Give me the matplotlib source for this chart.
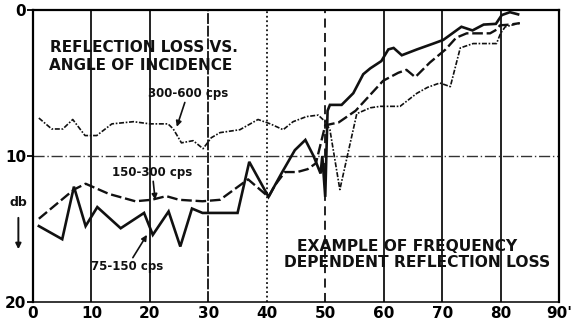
import matplotlib.pyplot as plt

# Reflection loss (db) against angle of incidence (degrees), three frequency bands
angle_75 = [1, 5, 7, 9, 11, 15, 19, 20.5, 23.2, 25.2, 27.2, 29, 35, 37, 40.3, 42.5, 44.8,
            46.6, 48, 49.2, 49.5, 50, 50.4, 50.8, 52.8, 54.8, 56.5, 57.7, 59.6, 60.8, 61.7,
            63.1, 65.7, 68.5, 70.2, 73.3, 75.2, 77.1, 79.2, 80.2, 81.6, 83]
loss_75 = [14.8, 15.7, 12.1, 14.8, 13.5, 14.95, 13.9, 15.4, 13.8, 16.2, 13.6, 13.9, 13.9, 10.4,
           12.8, 11.2, 9.6, 8.9, 10.0, 11.2, 10.0, 12.8, 6.9, 6.5, 6.5, 5.7, 4.4, 4.0, 3.5, 2.7,
           2.6, 3.1, 2.7, 2.3, 2.05, 1.15, 1.4, 1.0, 0.95, 0.35, 0.15, 0.3]

angle_150 = [1, 7, 9, 13, 17.5, 20.3, 22.8, 25, 29, 32, 36.8, 40.3, 41.4, 43.1, 45.2, 47, 48.4,
             50, 52.3, 55.2, 59.9, 62.5, 63.9, 65.4, 67.9, 70.6, 72.4, 74.2, 78.2, 79.3, 79.9,
             81.6, 83.3]
loss_150 = [14.3, 12.3, 11.9, 12.6, 13.1, 13.0, 12.75, 13.0, 13.1, 13.0, 11.6, 12.8, 12.0, 11.1,
            11.1, 10.9, 10.5, 7.9, 7.7, 6.9, 4.85, 4.3, 4.1, 4.6, 3.6, 2.7, 1.9, 1.6, 1.6, 1.35,
            1.05, 1.0, 0.9]

angle_300 = [1, 3.2, 5.1, 6.8, 8.9, 10.9, 13.5, 17.2, 20, 23.1, 24, 25.4, 27.4, 29.1, 30.5, 32,
             35.4, 38.5, 40.6, 42.8, 44.5, 46.8, 48.8, 50, 50.8, 52.5, 55.4, 57.7, 59.4, 62.8,
             65.7, 67.5, 69.6, 71.4, 73.1, 75.3, 79.3, 80, 80.8, 83.3]
loss_300 = [7.4, 8.15, 8.15, 7.5, 8.6, 8.6, 7.8, 7.65, 7.8, 7.8, 8.15, 9.1, 8.95, 9.5, 8.75, 8.4,
            8.2, 7.5, 7.8, 8.2, 7.65, 7.3, 7.2, 7.65, 8.2, 12.3, 7.1, 6.7, 6.6, 6.6, 5.7, 5.3,
            5.0, 5.25, 2.6, 2.3, 2.3, 1.6, 1.15, 0.9]

x_ticks = [0, 10, 20, 30, 40, 50, 60, 70, 80, 90]
x_tick_labels = ['0', '10', '20', '30', '40', '50', '60', '70', '80', "90'"]
y_ticks = [0, 10, 20]

ink = '#111111'
fig = plt.figure(figsize=(5.74, 3.21), dpi=100)
ax = fig.add_axes([0.0575, 0.0592, 0.9164, 0.9097])

# vertical rulings, drawn with the uneven strokes of the old plate
grid_styles = ['-', '-', (0, (6, 1)), (0, (1, 1.5)), (0, (5, 3)), '-', '-', '-']
for x, ls in zip(x_ticks[1:-1], grid_styles):
    ax.axvline(x, color=ink, lw=1.3, ls=ls, zorder=1)
ax.axhline(10, color='#333333', lw=1.0, ls=(0, (8, 2, 1, 2)), zorder=1)

ax.plot(angle_75, loss_75, color=ink, lw=1.9, solid_joinstyle='miter', zorder=3)
ax.plot(angle_150, loss_150, color=ink, lw=1.7, ls=(0, (4.5, 1.6)), zorder=3)
ax.plot(angle_300, loss_300, color=ink, lw=1.2, ls=(0, (3, 1, 1, 1)), zorder=3)

ax.set_xlim(0, 90)
ax.set_ylim(20, 0)
ax.set_xticks(x_ticks)
ax.set_xticklabels(x_tick_labels)
ax.set_yticks(y_ticks)
ax.tick_params(axis='x', length=0, pad=3, labelsize=11)
ax.tick_params(axis='y', length=4, width=1.3, pad=1, labelsize=11)
for lab in ax.get_xticklabels() + ax.get_yticklabels():
    lab.set_fontweight('bold')
for side in ['left', 'top', 'right']:
    ax.spines[side].set_linewidth(1.6)
ax.spines['bottom'].set_linewidth(1.1)

bold = dict(fontweight='bold', color=ink)
ax.text(2.9, 2.6, 'REFLECTION LOSS VS.', fontsize=11, va='center', ha='left', **bold)
ax.text(2.7, 3.77, 'ANGLE OF INCIDENCE', fontsize=11, va='center', ha='left', **bold)
ax.text(64, 16.2, 'EXAMPLE OF FREQUENCY', fontsize=11.2, va='center', ha='center', **bold)
ax.text(65.7, 17.3, 'DEPENDENT REFLECTION LOSS', fontsize=11.2, va='center', ha='center', **bold)

arrow = dict(arrowstyle='-|>', color=ink, lw=1.2, mutation_scale=8, shrinkA=0, shrinkB=0)
ax.annotate('300-600 cps', xy=(24.6, 8.0), xytext=(26.5, 5.7), fontsize=8.5, ha='center',
            va='center', arrowprops=arrow, **bold)
ax.annotate('150-300 cps', xy=(20.9, 13.0), xytext=(20.4, 11.1), fontsize=8.5, ha='center',
            va='center', arrowprops=arrow, **bold)
ax.annotate('75-150 cps', xy=(19.5, 15.4), xytext=(16.1, 17.6), fontsize=8.5, ha='center',
            va='center', arrowprops=arrow, **bold)

# unit label with a downward arrow at the left margin
fig.text(0.032, 0.368, 'db', fontsize=9, ha='center', va='center', **bold)
fig.add_artist(plt.matplotlib.patches.FancyArrowPatch(
    (0.032, 0.33), (0.032, 0.215), transform=fig.transFigure,
    arrowstyle='-|>', mutation_scale=8, color=ink, lw=1.4))

fig.savefig('out.png', dpi=100, facecolor='white')
